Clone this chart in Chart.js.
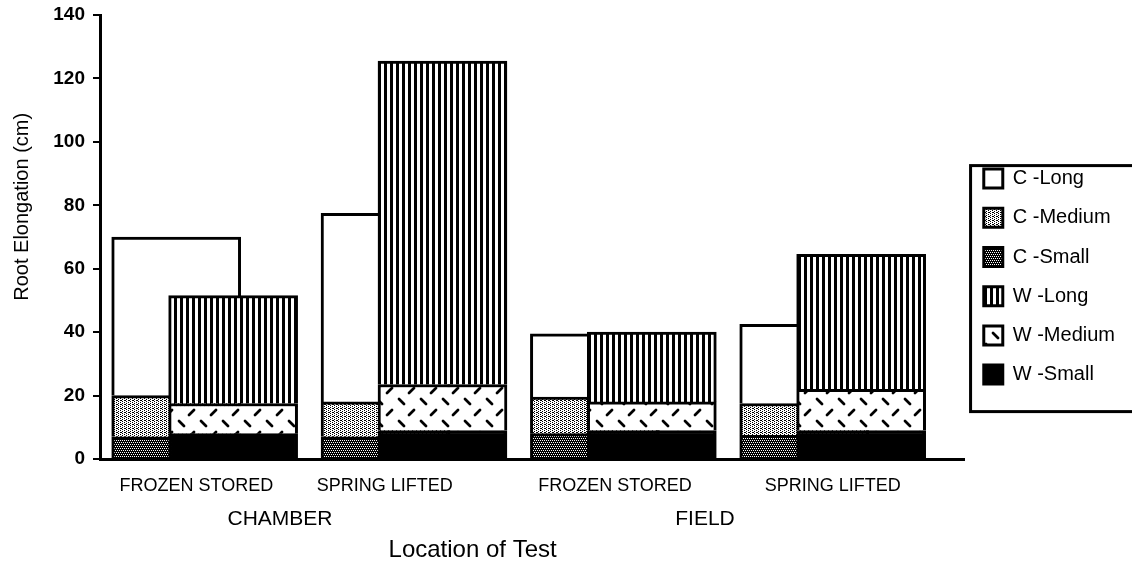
<!DOCTYPE html>
<html>
<head>
<meta charset="utf-8">
<script src="https://cdn.jsdelivr.net/npm/chart.js@4.4.1/dist/chart.umd.min.js"></script>
<style>
  html, body { margin: 0; padding: 0; background: #fff; }
  #wrap { width: 1132px; height: 564px; }
</style>
</head>
<body>
<div id="wrap"><canvas id="root-chart"></canvas></div>
<script>
// axis text
var treatments = ["FROZEN STORED", "SPRING LIFTED", "FROZEN STORED", "SPRING LIFTED"];
var treatmentTickAt = [-0.04, 0.86, 1.96, 3.0];
var locations = ["CHAMBER", "FIELD"];
var locationTickAt = [0.36, 2.39];
var xTitle = "Location of Test";
var xTitleAt = [1.28];
var yTitle = "Root Elongation (cm)";
var yTicks = [0, 20, 40, 60, 80, 100, 120, 140];

// root elongation (cm) per treatment, C and W stacks
var cSmall = [7, 7, 8, 7.5];
var cMedium = [13, 11, 11.5, 10];
var cLong = [50, 59.5, 20, 25];
var wSmall = [8, 9, 9, 9];
var wMedium = [9.5, 14.5, 9, 13];
var wLong = [34, 102, 22, 42.5];

var legendOrder = ["C -Long", "C -Medium", "C -Small", "W -Long", "W -Medium", "W -Small"];

var fontFamily = "'Liberation Sans', Arial, sans-serif";
Chart.defaults.font.family = fontFamily;
Chart.defaults.color = "#000";

// fill patterns
function makePattern(w, h, paint) {
	var c = document.createElement("canvas");
	c.width = w;
	c.height = h;
	var g = c.getContext("2d");
	paint(g);
	return g.createPattern(c, "repeat");
}
var lightDots = makePattern(4, 4, function (g) {
	g.fillStyle = "#fff";
	g.fillRect(0, 0, 4, 4);
	g.fillStyle = "#000";
	g.fillRect(0, 0, 1, 1);
	g.fillRect(2, 1, 1, 1);
	g.fillRect(0, 2, 1, 1);
	g.fillRect(2, 3, 1, 1);
	g.fillRect(1, 0, 1, 1);
});
var darkDots = makePattern(4, 4, function (g) {
	g.fillStyle = "#000";
	g.fillRect(0, 0, 4, 4);
	g.fillStyle = "#fff";
	g.fillRect(0, 0, 1, 1);
	g.fillRect(2, 0, 1, 1);
	g.fillRect(1, 2, 1, 1);
	g.fillRect(3, 2, 1, 1);
});
var stripes = makePattern(6, 1, function (g) {
	g.fillStyle = "#fff";
	g.fillRect(0, 0, 6, 1);
	g.fillStyle = "#000";
	g.fillRect(0, 0, 3, 1);
});
var dashes = makePattern(22, 22, function (g) {
	g.fillStyle = "#fff";
	g.fillRect(0, 0, 22, 22);
	g.strokeStyle = "#000";
	g.lineWidth = 2.8;
	g.lineCap = "round";
	g.beginPath();
	g.moveTo(3, 3);
	g.lineTo(8, 8);
	g.moveTo(13, 19);
	g.lineTo(18, 14);
	g.stroke();
});

var pairShift = 0.136;

function series(label, values, fill, side, stackKey) {
	return {
		label: label,
		data: values.map(function (v, i) {
			return { x: i + side * pairShift, y: v };
		}),
		backgroundColor: fill,
		borderColor: "#000",
		borderWidth: 3,
		stack: stackKey,
		grouped: false,
		barThickness: 129,
	};
}

// W listed first so it is drawn over the C bars
var datasets = [
	series("W -Small", wSmall, "#000", 1, "W"),
	series("W -Medium", wMedium, dashes, 1, "W"),
	series("W -Long", wLong, stripes, 1, "W"),
	series("C -Small", cSmall, darkDots, -1, "C"),
	series("C -Medium", cMedium, lightDots, -1, "C"),
	series("C -Long", cLong, "#fff", -1, "C"),
];

function fixedTicks(values) {
	return function (scale) {
		scale.ticks = values.map(function (v) {
			return { value: v };
		});
	};
}
function fixedHeight(h) {
	return function (scale) {
		scale.height = h;
	};
}

var xMin = -0.5;
var xMax = 3.63;

// box round the legend, open on the right like the original
var legendFrame = {
	id: "legendFrame",
	afterDraw: function (chart) {
		var lg = chart.legend;
		var boxes = lg.legendHitBoxes;
		if (!boxes || !boxes.length) return;
		var top = boxes[0].top - 3;
		var last = boxes[boxes.length - 1];
		var bottom = last.top + last.height + 27;
		var c = chart.ctx;
		c.save();
		c.strokeStyle = "#000";
		c.lineWidth = 3;
		c.strokeRect(lg.left + 6, top, chart.width, bottom - top);
		c.restore();
	},
};

// y title sits above the middle of the axis in the original
var yTitleText = {
	id: "yTitleText",
	afterDraw: function (chart) {
		var area = chart.chartArea;
		var c = chart.ctx;
		c.save();
		c.translate(22, area.top + (area.bottom - area.top) * 0.432);
		c.rotate(-Math.PI / 2);
		c.font = "20px " + fontFamily;
		c.fillStyle = "#000";
		c.textAlign = "center";
		c.textBaseline = "middle";
		c.fillText(yTitle, 0, 0);
		c.restore();
	},
};

var hiddenGrid = { display: false, drawTicks: false, tickLength: 0 };

var ctx = document.getElementById("root-chart").getContext("2d");
var rootChart = new Chart(ctx, {
	type: "bar",
	data: { datasets: datasets },
	plugins: [legendFrame, yTitleText],
	options: {
		responsive: true,
		maintainAspectRatio: false,
		animation: false,
		events: [],
		layout: { padding: { left: 8, right: 7, top: 15, bottom: 0 } },
		plugins: {
			tooltip: { enabled: false },
			legend: {
				position: "right",
				align: "start",
				title: { display: true, text: "", padding: { top: 120, bottom: 0 } },
				labels: {
					color: "#000",
					font: { size: 20 },
					boxWidth: 19,
					boxHeight: 19,
					padding: 19.2,
					sort: function (a, b) {
						return legendOrder.indexOf(a.text) - legendOrder.indexOf(b.text);
					},
				},
			},
		},
		scales: {
			x: {
				type: "linear",
				min: xMin,
				max: xMax,
				offset: false,
				weight: 0,
				grid: hiddenGrid,
				border: { display: true, color: "#000", width: 3 },
				afterBuildTicks: fixedTicks(treatmentTickAt),
				afterFit: fixedHeight(33),
				ticks: {
					padding: 16,
					autoSkip: false,
					maxRotation: 0,
					font: { size: 18 },
					callback: function (v, i) {
						return treatments[i];
					},
				},
			},
			x2: {
				type: "linear",
				position: "bottom",
				min: xMin,
				max: xMax,
				offset: false,
				weight: 1,
				grid: hiddenGrid,
				border: { display: false },
				afterBuildTicks: fixedTicks(locationTickAt),
				afterFit: fixedHeight(34),
				ticks: {
					padding: 15,
					autoSkip: false,
					maxRotation: 0,
					font: { size: 21 },
					callback: function (v, i) {
						return locations[i];
					},
				},
			},
			x3: {
				type: "linear",
				position: "bottom",
				min: xMin,
				max: xMax,
				offset: false,
				weight: 2,
				grid: hiddenGrid,
				border: { display: false },
				afterBuildTicks: fixedTicks(xTitleAt),
				afterFit: fixedHeight(38),
				ticks: {
					padding: 10,
					autoSkip: false,
					maxRotation: 0,
					font: { size: 24 },
					callback: function () {
						return xTitle;
					},
				},
			},
			y: {
				stacked: true,
				min: 0,
				max: 140,
				afterBuildTicks: fixedTicks(yTicks),
				afterFit: function (scale) {
					scale.width = 92;
					scale.paddingTop = 0;
					scale.paddingBottom = 0;
				},
				grid: {
					drawOnChartArea: false,
					drawTicks: true,
					tickLength: 7,
					color: "#000",
					lineWidth: 2,
				},
				border: { display: true, color: "#000", width: 3 },
				ticks: { padding: 8, font: { size: 19, weight: "bold" } },
			},
		},
	},
});
</script>
</body>
</html>
